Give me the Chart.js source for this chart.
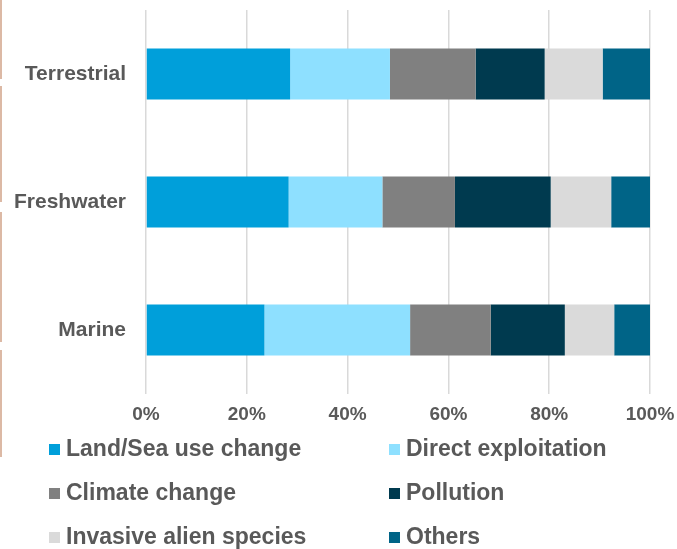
<!DOCTYPE html>
<html>
<head>
<meta charset="utf-8">
<script src="https://cdn.jsdelivr.net/npm/chart.js@4/dist/chart.umd.min.js"></script>
<style>
  body { margin: 0; background: #fff; }
  #wrap { position: relative; width: 677px; height: 549px; overflow: hidden; font-family: "Liberation Sans", Arial, sans-serif; }
  #box { position: absolute; left: 0; top: 0; width: 677px; height: 430px; }
  .edge { position: absolute; left: 0; width: 2px; background: #dcb9a5; }
  #legend { position: absolute; left: 49px; top: 426px; width: 620px; display: grid; grid-template-columns: 340px 280px; }
  .item { height: 44px; line-height: 44px; font-size: 23px; font-weight: bold; color: #595959; white-space: nowrap; }
  .sw { display: inline-block; width: 11px; height: 11px; margin-right: 6px; vertical-align: 1px; }
</style>
</head>
<body>
<div id="wrap">
  <div class="edge" style="top:0;height:79px"></div>
  <div class="edge" style="top:86px;height:116px"></div>
  <div class="edge" style="top:212px;height:130px"></div>
  <div class="edge" style="top:350px;height:107px"></div>
  <div id="box"><canvas id="driversChart"></canvas></div>
  <div id="legend"></div>
</div>
<script>
// categories (top to bottom)
var realms = ["Terrestrial", "Freshwater", "Marine"];

// share of impact per driver, in % (Terrestrial, Freshwater, Marine)
var landSeaUse   = [28.6, 28.3, 23.5];
var exploitation = [19.8, 18.6, 28.9];
var climate      = [17.0, 14.4, 16.0];
var pollution    = [13.7, 19.0, 14.7];
var invasive     = [11.5, 12.0, 9.8];
var others       = [9.4, 7.7, 7.1];

var drivers = ["Land/Sea use change", "Direct exploitation", "Climate change", "Pollution", "Invasive alien species", "Others"];
var driverColors = ["#009fda", "#8ee0ff", "#808080", "#003a4f", "#dadada", "#006487"];
var series = [landSeaUse, exploitation, climate, pollution, invasive, others];

var textColor = "#595959";

var datasets = drivers.map(function (name, i) {
  return {
    label: name,
    data: series[i],
    backgroundColor: driverColors[i],
    borderWidth: 0,
    categoryPercentage: 0.8,
    barPercentage: 0.5
  };
});

var ctx = document.getElementById("driversChart");
new Chart(ctx, {
  type: "bar",
  data: { labels: realms, datasets: datasets },
  options: {
    indexAxis: "y",
    responsive: true,
    maintainAspectRatio: false,
    animation: false,
    layout: { padding: { top: 10, right: 27, left: 0, bottom: 0 } },
    plugins: {
      legend: { display: false },
      tooltip: { enabled: false }
    },
    scales: {
      x: {
        stacked: true,
        min: 0,
        max: 100,
        ticks: {
          stepSize: 20,
          padding: 9,
          color: textColor,
          font: { family: "Liberation Sans", size: 19, weight: "bold" },
          callback: function (v) { return v + "%"; }
        },
        grid: { color: "#d9d9d9", lineWidth: 1.5, drawTicks: false },
        border: { display: false },
        afterFit: function (scale) {
          scale.height = 36;
          scale.paddingLeft = 0;
          scale.paddingRight = 0;
        }
      },
      y: {
        stacked: true,
        ticks: {
          padding: 20,
          color: textColor,
          font: { family: "Liberation Sans", size: 21, weight: "bold" }
        },
        grid: { display: false, drawTicks: false },
        border: { display: false },
        afterFit: function (scale) {
          scale.width = 146;
          scale.paddingTop = 0;
          scale.paddingBottom = 0;
        }
      }
    }
  }
});

// two-column legend under the chart
var legendBox = document.getElementById("legend");
drivers.forEach(function (name, i) {
  var item = document.createElement("div");
  item.className = "item";
  item.innerHTML = '<span class="sw" style="background:' + driverColors[i] + '"></span>' + name;
  legendBox.appendChild(item);
});
</script>
</body>
</html>
